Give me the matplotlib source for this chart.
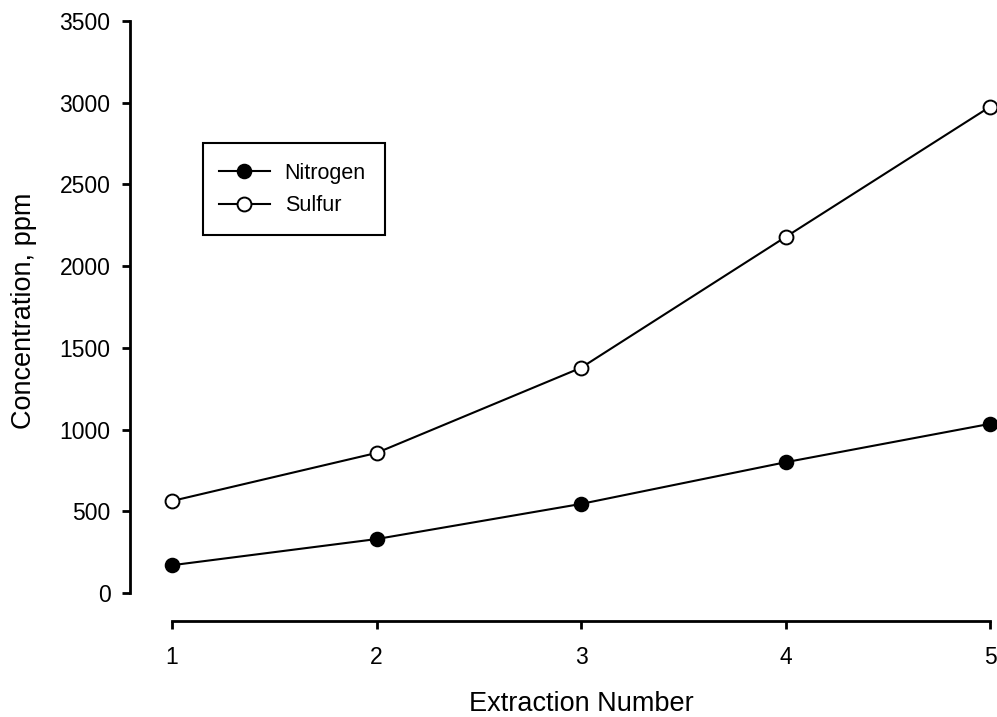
import matplotlib
matplotlib.use("Agg")
import matplotlib.pyplot as plt
from matplotlib.patches import Rectangle

# data
extraction = [1, 2, 3, 4, 5]
nitrogen = [170, 330, 545, 800, 1035]
sulfur = [563, 857, 1378, 2178, 2975]
y_ticks = [0, 500, 1000, 1500, 2000, 2500, 3000, 3500]

plt.rcParams['font.family'] = ['Liberation Sans', 'DejaVu Sans']

W, H = 997, 717
fig = plt.figure(figsize=(W / 100, H / 100), dpi=100)
# axes box = data area (x 1..5, y 0..3500), spines pushed outward
ax = fig.add_axes([172 / W, (H - 593) / H, 818 / W, 572 / H])

ax.plot(extraction, nitrogen, '-o', color='black', lw=1.5,
        ms=10, mfc='black', mec='black', mew=1.2, clip_on=False, label='Nitrogen')
ax.plot(extraction, sulfur, '-o', color='black', lw=1.5,
        ms=10, mfc='white', mec='black', mew=1.4, clip_on=False, label='Sulfur')

ax.set_xlim(1, 5)
ax.set_ylim(0, 3500)
ax.set_xticks(extraction)
ax.set_yticks(y_ticks)

for side in ('top', 'right'):
    ax.spines[side].set_visible(False)
ax.spines['left'].set_position(('outward', 42 * 0.72))
ax.spines['bottom'].set_position(('outward', 28 * 0.72))
for side in ('left', 'bottom'):
    ax.spines[side].set_linewidth(2)
ax.tick_params(axis='both', direction='out', length=6, width=2, labelsize=16.5)
ax.tick_params(axis='y', pad=8)
ax.tick_params(axis='x', pad=12)

fig.text(24 / W, 1 - 311 / H, 'Concentration, ppm', rotation=90,
         ha='center', va='center', fontsize=19.5)
fig.text(581 / W, 6 / H, 'Extraction Number', ha='center', va='baseline',
         fontsize=19.5)

# legend without its own frame, box drawn separately
ax.legend(loc='center left', bbox_to_anchor=(219 / W, 1 - 189.5 / H),
          bbox_transform=fig.transFigure, frameon=False, fontsize=15.5,
          handlelength=2.35, handletextpad=0.7, labelspacing=0.55,
          borderpad=0, borderaxespad=0)
fig.add_artist(Rectangle((203 / W, 1 - 235 / H), 182 / W, 92 / H,
                         transform=fig.transFigure, fill=False,
                         lw=1.5, edgecolor='black'))

fig.savefig('out.png', dpi=100)
